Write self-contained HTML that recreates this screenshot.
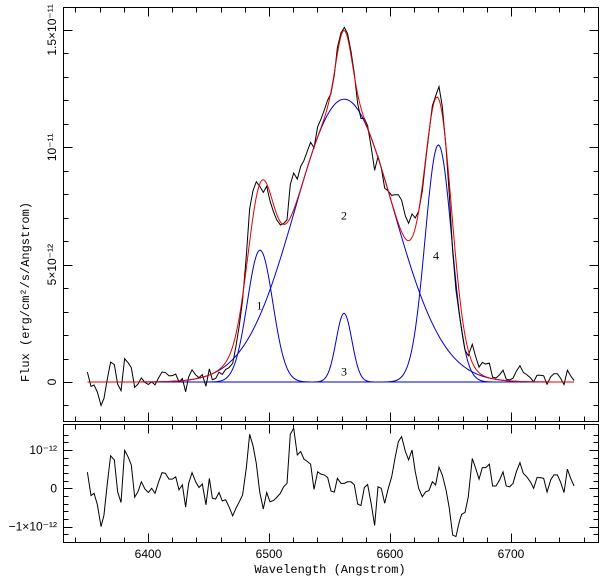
<!DOCTYPE html>
<html><head><meta charset="utf-8"><style>
html,body{margin:0;padding:0;background:#fff}
svg{display:block}
text{font-family:"Liberation Sans",sans-serif;font-size:12px;fill:#000}
.mono{font-family:"Liberation Mono",monospace;font-size:12px}
</style></head><body>
<svg id="chart" width="600" height="578" viewBox="0 0 600 578" xmlns="http://www.w3.org/2000/svg"></svg>
<script>
// Gaussian component parameters
const compCenters = [6492.6, 6562.2, 6562.0, 6640.0];
const compAmps = [5.62e-12, 12.05e-12, 2.93e-12, 10.1e-12];
const compSigmas = [10.5, 41, 6.5, 11];
const compLabels = ["1", "2", "3", "4"];
const compLabelWave = [6492, 6562, 6562, 6638];
const compLabelFlux = [3.25e-12, 7.1e-12, 0.45e-12, 5.4e-12];
// residual (data - model) samples
const resWave = [6349.9,6352.9,6355.4,6358.1,6361.2,6363.6,6366.4,6369.1,6372.2,6374.9,6377.7,6380.7,6383.7,6386.2,6389,6391.7,6394.5,6397.5,6400.3,6403,6405.8,6408.8,6411.6,6414.3,6417.4,6420.1,6422.9,6425.6,6428.4,6431.1,6433.6,6436.4,6439.4,6442.1,6444.9,6447.9,6450.7,
6453.2,6455.9,6458.7,6461.4,6464.2,6466.9,6470,6472.7,6475.5,6478.2,6481.3,6484,6486.8,6489.5,6492.3,6495.3,6498.1,6500.8,6503.6,6506.3,6509.4,6512.1,6514.9,6517.6,6520.4,6523.4,6526.2,6528.9,6531.7,6534.4,6537.2,6540.2,6543,6545.7,6548.5,6551.2,6554,
6556.5,6559.5,6562.3,6565,6567.8,6570.5,6573.3,6576,6578.8,6581.5,6584.6,6587.3,6590.1,6592.8,6595.6,6598.6,6601.4,6604.1,6606.9,6609.6,6612.7,6615.4,6618.2,6620.9,6623.7,6626.7,6629.5,6632.2,6635,6637.7,6640.5,6643.2,6646.3,6649,6651.8,6654.5,6657.3,
6659.2,6662,6664.7,6668,6670.8,6673.6,6676.3,6679.1,6682.1,6684.8,6687.6,6690.6,6693.4,6696.1,6698.9,6701.7,6704.4,6707.4,6710.2,6713,6716,6718.7,6721.5,6724.2,6727,6729.8,6732.8,6735.5,6738.3,6741,6743.8,6746.6,6749.3,6752.1];
const resVal = [0.42,-0.19,-0.13,-0.42,-1.0,-0.70,0.13,0.85,0.74,-0.09,-0.37,0.99,0.81,0.61,-0.23,-0.09,0.17,-0.02,-0.11,0,-0.13,0.17,0.41,0.39,0.24,0.24,0.30,-0.04,0.09,-0.49,0.13,0.41,0.17,0.02,0.11,-0.43,0.26,
-0.26,-0.28,-0.11,-0.33,-0.30,-0.48,-0.72,-0.52,-0.35,-0.17,0.54,1.41,1.11,0.65,-0.09,-0.54,-0.11,-0.35,-0.32,-0.24,-0.13,0.04,0.13,1.41,1.57,0.87,0.96,0.76,0.70,0.63,-0.03,0.43,0.37,0.35,0.28,-0.07,-0.10,
0.26,0.13,0.13,0.17,0.17,0.09,-0.41,-0.45,0.02,0.10,-0.43,-0.97,0.04,0,-0.39,0,0.30,0.78,1.22,1.35,0.96,0.74,1.0,0.43,0,-0.22,-0.09,-0.06,0.17,0.09,0.55,0.35,-0.04,-0.52,-1.22,-1.26,-0.87,
-0.68,-0.63,-0.22,0.78,0.52,0.24,0.54,0.54,0.63,0.06,0.06,0.22,0.43,0.06,0.04,0.13,0.43,0.67,0.39,0.30,0.17,0,0.28,0.28,0.26,-0.10,0.22,0.35,0.35,0.16,-0.11,0.50,0.26,0.06]; // units 1e-12
const xTickVals = [6400, 6500, 6600, 6700];
const topYTickVals = [0, 5e-12, 1e-11, 1.5e-11];
const topYTickLabels = ["0", "5×10⁻¹²", "10⁻¹¹", "1.5×10⁻¹¹"];
const botYTickVals = [-1, 0, 1];
const botYTickLabels = ["−1×10⁻¹²", "0", "10⁻¹²"];

const NS = "http://www.w3.org/2000/svg";
const svg = document.getElementById('chart');
const L = 63.5, R = 598.5, T1 = 7.5, B1 = 421.5, T2 = 424.5, B2 = 542.5;
const X = w => 148 + (w - 6400) * 1.21;
const Y1 = f => 382 - f / 1e-12 * 23.47;
const Y2 = r => 488.3 - r * 38.3;
function el(tag, attrs) { const e = document.createElementNS(NS, tag); for (const k in attrs) e.setAttribute(k, attrs[k]); svg.appendChild(e); return e; }
function gauss(w, i) { const d = w - compCenters[i]; return compAmps[i] * Math.exp(-d * d / (2 * compSigmas[i] * compSigmas[i])); }
function model(w) { let s = 0; for (let i = 0; i < compCenters.length; i++) s += gauss(w, i); return s; }

let e;
e = el('rect', {x: L, y: T1, width: R - L, height: B1 - T1, fill: 'none', stroke: '#000', 'stroke-width': 1});
 
e = el('rect', {x: L, y: T2, width: R - L, height: B2 - T2, fill: 'none', stroke: '#000', 'stroke-width': 1});
 

let tp = '';
for (let w = 6340; w <= 6770; w += 20) {
  const x = Math.round(X(w)) + 0.5; if (x < L || x > R) continue;
  const len = (w % 100 === 0) ? 9 : 5;
  tp += `M${x},${T1}v${len}M${x},${B1}v${-len}M${x},${T2}v${len}M${x},${B2}v${-len}`;
}
for (let k = -1; k <= 15; k++) {
  const y = Math.round(Y1(k * 1e-12)) + 0.5; const len = (k % 5 === 0) ? 9 : 5;
  tp += `M${L},${y}h${len}M${R},${y}h${-len}`;
}
for (let k = -7; k <= 7; k++) {
  const y = Math.round(Y2(k * 0.2)) + 0.5; if (y < T2 + 2 || y > B2 - 2) continue; const len = (k % 5 === 0) ? 9 : 5;
  tp += `M${L},${y}h${len}M${R},${y}h${-len}`;
}
e = el('path', {d: tp, stroke: '#000', 'stroke-width': 1, fill: 'none'});
 

xTickVals.forEach(v => {
  const t = el('text', {x: X(v), y: 558, 'text-anchor': 'middle'}); t.textContent = v;
   
});
topYTickVals.forEach((v, i) => {
  const y = Y1(v);
  const t = el('text', {x: 0, y: 0, 'text-anchor': 'middle', transform: `translate(56,${y}) rotate(-90)`}); t.textContent = topYTickLabels[i];
   
});
botYTickVals.forEach((v, i) => {
  const t = el('text', {x: 57, y: Y2(v) + 4, 'text-anchor': 'end'}); t.textContent = botYTickLabels[i];
   
});
e = el('text', {x: 330, y: 573, 'text-anchor': 'middle', class: 'mono'}); e.textContent = 'Wavelength (Angstrom)';
 
e = el('text', {x: 0, y: 0, 'text-anchor': 'middle', class: 'mono', transform: 'translate(29,292) rotate(-90)'}); e.textContent = 'Flux (erg/cm²/s/Angstrom)';
 

e = el('line', {x1: X(6350), x2: X(6752), y1: Y1(0), y2: Y1(0), stroke: '#0000cc', 'stroke-width': 1});
 
for (let i = 0; i < compCenters.length; i++) {
  let d = '';
  for (let w = 6350; w <= 6752; w += 1) d += (d ? 'L' : 'M') + X(w).toFixed(2) + ',' + Y1(gauss(w, i)).toFixed(2);
  const p = el('path', {d, stroke: '#0000cc', 'stroke-width': 1, fill: 'none'});
  
  
  const t = el('text', {x: X(compLabelWave[i]), y: Y1(compLabelFlux[i]) + 4, 'text-anchor': 'middle', style: 'font-family:Liberation Serif,serif;font-size:12px'});
  t.textContent = compLabels[i];
  
  
}
let dd = '';
resWave.forEach((w, i) => { dd += (i ? 'L' : 'M') + X(w).toFixed(2) + ',' + Y1(model(w) + resVal[i] * 1e-12).toFixed(2); });
e = el('path', {d: dd, stroke: '#000', 'stroke-width': 1, fill: 'none'});
 
let md = '';
for (let w = 6350; w <= 6752; w += 1) md += (md ? 'L' : 'M') + X(w).toFixed(2) + ',' + Y1(model(w)).toFixed(2);
e = el('path', {d: md, stroke: '#e00000', 'stroke-width': 1, fill: 'none'});
 
let rd = '';
resWave.forEach((w, i) => { rd += (i ? 'L' : 'M') + X(w).toFixed(2) + ',' + Y2(resVal[i]).toFixed(2); });
e = el('path', {d: rd, stroke: '#000', 'stroke-width': 1, fill: 'none'});
 
</script>
</body></html>
